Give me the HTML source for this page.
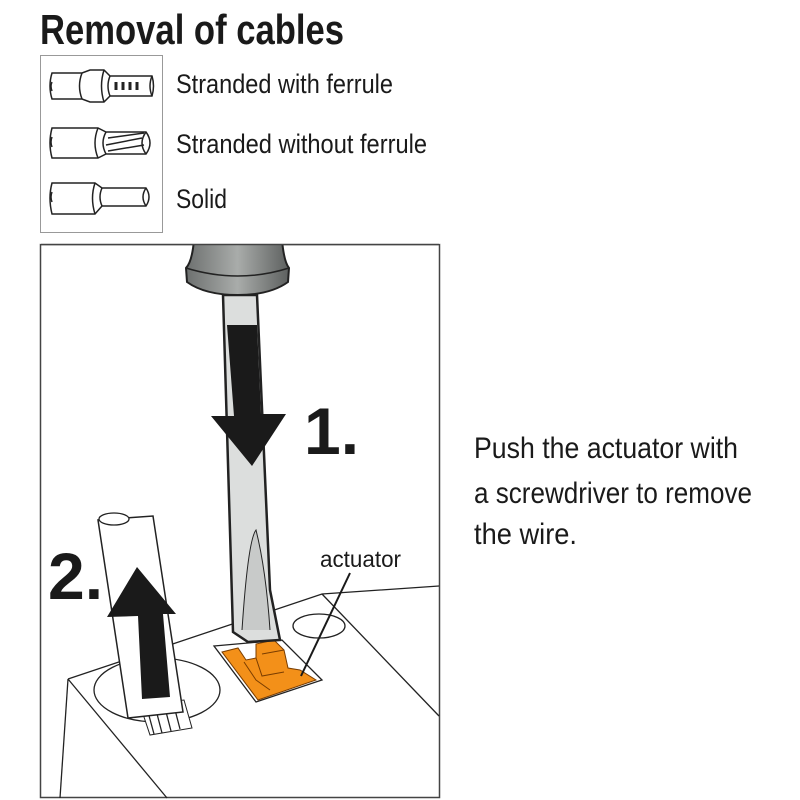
<!DOCTYPE html>
<html><head><meta charset="utf-8"><style>
body{margin:0;background:#fff;width:800px;height:800px;overflow:hidden}
svg{display:block}
text{font-family:"Liberation Sans Narrow","Liberation Sans",sans-serif}
</style></head><body>
<svg width="800" height="800" viewBox="0 0 800 800" xmlns="http://www.w3.org/2000/svg">
<defs>
<linearGradient id="hg" x1="0" x2="1" y1="0" y2="0">
<stop offset="0" stop-color="#6d706f"/><stop offset="0.5" stop-color="#a9acaa"/><stop offset="1" stop-color="#5d605f"/>
</linearGradient>
</defs>
<text x="40" y="44" font-size="42" font-weight="bold" fill="#1a1a1a" textLength="304" lengthAdjust="spacingAndGlyphs">Removal of cables</text>
<g fill="#fff" stroke="#222" stroke-width="1.5">
<path d="M52 73 H82 L90 70 H104 L110 76 L152 76 Q155 86 152 96 L110 96 L104 102 H90 L82 99 H52 Q48 86 52 73Z"/>
<path d="M52 82 Q50 86 52 91 M82 73 Q77 86 82 99 M104 70 Q99 86 104 102 M110 76 Q106 86 110 96 M152 76 Q148 86 152 96"/>
<path d="M116 82 v8 M123 82 v8 M130 82 v8 M137 82 v8" stroke-width="3"/>
<path d="M52 128 H98 L106 132 H146 Q154 143 146 154 H106 L98 158 H52 Q48 143 52 128Z"/>
<path d="M52 137 Q50 142 52 147 M98 128 Q92 143 98 158 M106 132 Q100 143 106 154 M146 132 Q138 143 146 154 M108 138 L144 133 M106 145 L142 138 M108 151 L144 145"/>
<path d="M52 183 H95 L102 188 H146 Q152 197 146 206 H102 L95 214 H52 Q48 198 52 183Z"/>
<path d="M52 192 Q50 197 52 202 M95 183 Q90 198 95 214 M102 188 Q98 197 102 206 M146 188 Q140 197 146 206"/>
</g>
<g font-size="27" fill="#1a1a1a">
<text x="176" y="93" textLength="217" lengthAdjust="spacingAndGlyphs">Stranded with ferrule</text>
<text x="176" y="153" textLength="251" lengthAdjust="spacingAndGlyphs">Stranded without ferrule</text>
<text x="176" y="208" textLength="51" lengthAdjust="spacingAndGlyphs">Solid</text>
</g>
<rect x="40.5" y="244.5" width="399" height="553" fill="none" stroke="#444" stroke-width="1.5"/>
<g fill="none" stroke="#222" stroke-width="1.3">
<path d="M68 679 L322 594 L439 586"/>
<path d="M322 594 L439 716"/>
<path d="M68 679 L60 798"/>
<path d="M68 679 L167 798"/>
</g>
<ellipse cx="319" cy="626" rx="26" ry="12" fill="#fff" stroke="#222" stroke-width="1.3"/>
<ellipse cx="157" cy="690" rx="63" ry="32" fill="#fff" stroke="#222" stroke-width="1.3"/>
<path d="M214 646 L282 640 L322 680 L256 702 Z" fill="#fff" stroke="#222" stroke-width="1.3"/>
<path d="M222 652 L238 648 L246 660 L256 658 L256 644 L274 640 L284 650 L288 668 L300 670 L316 680 L258 700 Z" fill="#f39019" stroke="#7a3d00" stroke-width="1"/>
<path d="M256 658 L262 676 L284 672 M244 662 L256 680 L270 690 M284 650 L262 654" fill="none" stroke="#7a3d00" stroke-width="1"/>
<path d="M140 705 L150 735 L192 728 L184 700 Z" fill="#fff" stroke="#222" stroke-width="1"/>
<path d="M148 712 L154 734 M156 710 L162 733 M165 708 L171 731 M174 706 L180 729" stroke="#222" stroke-width="1.3"/>
<path d="M98 520 L128 718 L183 712 L153 516 Z" fill="#fff" stroke="#222" stroke-width="1.5"/>
<ellipse cx="114" cy="519" rx="15" ry="6" fill="#fff" stroke="#222" stroke-width="1.3"/>
<path d="M137 567 L176 614 L163 614 L170 697 L142 699 L138 616 L107 617 Z" fill="#1a1a1a"/>
<path d="M223 295 L233 632 L248 642 L280 640 L270 590 L257 295 Z" fill="#dcdedd" stroke="#222" stroke-width="2.5"/>
<path d="M242 630 Q248 540 256 530 Q266 570 270 630" fill="#c8cac9" stroke="#222" stroke-width="1"/>
<path d="M194 240 L282 240 Q284 262 289 268 L288 282 Q270 295 238 295 Q205 295 187 282 L186 268 Q192 262 194 240 Z" fill="url(#hg)" stroke="#222" stroke-width="2"/>
<path d="M186 268 Q238 284 289 268" fill="none" stroke="#222" stroke-width="1.5"/>
<rect x="40" y="234" width="400" height="10" fill="#fff"/>
<path d="M40.5 244.5 H439.5" stroke="#444" stroke-width="1.5"/>
<rect x="40.5" y="55.5" width="122" height="177" fill="none" stroke="#999" stroke-width="1"/>
<path d="M227 325 L257 325 L261 414 L286 414 L252 466 L211 416 L234 416 Z" fill="#1a1a1a"/>
<text x="304" y="454" font-size="66" font-weight="bold" fill="#1a1a1a" font-family="Liberation Sans,sans-serif">1.</text>
<text x="48" y="599" font-size="66" font-weight="bold" fill="#1a1a1a" font-family="Liberation Sans,sans-serif">2.</text>
<text x="320" y="567" font-size="23" fill="#1a1a1a" textLength="81" lengthAdjust="spacingAndGlyphs">actuator</text>
<path d="M350 573 L301 676" stroke="#1a1a1a" stroke-width="2"/>
<g font-size="30" fill="#1a1a1a">
<text x="474" y="458" textLength="264" lengthAdjust="spacingAndGlyphs">Push the actuator with</text>
<text x="474" y="503" textLength="278" lengthAdjust="spacingAndGlyphs">a screwdriver to remove</text>
<text x="474" y="544" textLength="103" lengthAdjust="spacingAndGlyphs">the wire.</text>
</g>
</svg>
</body></html>
